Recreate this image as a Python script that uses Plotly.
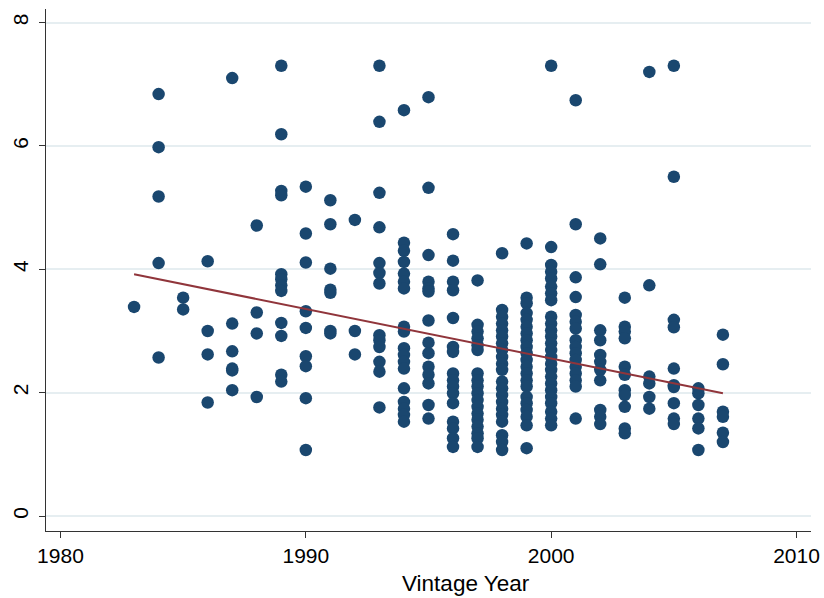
import plotly.graph_objects as go

# ---- data ----
y1983 = [3.39]
y1984 = [6.84, 5.98, 5.18, 4.10, 2.57]
y1985 = [3.54, 3.35]
y1986 = [4.13, 3.00, 2.62, 1.84]
y1987 = [7.10, 3.12, 2.67, 2.39, 2.36, 2.04]
y1988 = [4.71, 3.30, 2.96, 1.93]
y1989 = [7.30, 6.19, 5.27, 5.20, 3.92, 3.84, 3.74, 3.65, 3.13, 2.92, 2.29, 2.18]
y1990 = [5.34, 4.58, 4.11, 3.32, 3.05, 2.59, 2.43, 1.91, 1.07]
y1991 = [5.12, 4.73, 4.01, 3.67, 3.62, 3.00, 2.96]
y1992 = [4.80, 3.00, 2.62]
y1993 = [7.30, 6.39, 5.24, 4.68, 4.10, 3.94, 3.77, 2.93, 2.85, 2.74, 2.50, 2.34, 1.76]
y1994 = [6.58, 4.43, 4.30, 4.12, 3.93, 3.80, 3.69, 3.07, 2.99, 2.72, 2.61, 2.50,
         2.39, 2.07, 1.85, 1.74, 1.64, 1.53]
y1995 = [6.79, 5.32, 4.23, 3.80, 3.69, 3.64, 3.17, 2.81, 2.64, 2.42, 2.29, 2.15, 1.80, 1.58]
y1996 = [4.57, 4.14, 3.80, 3.66, 3.21, 2.74, 2.66, 2.31, 2.20, 2.10, 1.99, 1.83,
         1.53, 1.42, 1.26, 1.12]
y1997 = [3.82, 3.10, 2.99, 2.88, 2.77, 2.69, 2.31, 2.20, 2.10, 1.99, 1.88, 1.77,
         1.66, 1.56, 1.45, 1.34, 1.26, 1.12]
y1998 = [4.26, 3.34, 3.23, 3.12, 3.01, 2.91, 2.80, 2.69, 2.58, 2.47, 2.37, 2.18,
         2.07, 1.96, 1.85, 1.74, 1.64, 1.53, 1.31, 1.20, 1.07]
y1999 = [4.42, 3.54, 3.45, 3.29, 3.18, 3.07, 2.96, 2.85, 2.74, 2.64, 2.53, 2.42,
         2.31, 2.20, 2.10, 1.93, 1.83, 1.72, 1.61, 1.47, 1.10]
y2000 = [7.30, 4.36, 4.07, 3.96, 3.85, 3.72, 3.61, 3.50, 3.23, 3.12, 3.01, 2.91,
         2.80, 2.69, 2.58, 2.47, 2.37, 2.26, 2.15, 2.04, 1.93, 1.83, 1.69, 1.58, 1.47]
y2001 = [6.74, 4.73, 3.87, 3.55, 3.26, 3.15, 3.04, 2.85, 2.74, 2.64, 2.53, 2.42,
         2.31, 2.20, 2.10, 1.58]
y2002 = [4.50, 4.08, 3.01, 2.85, 2.61, 2.50, 2.37, 2.20, 1.72, 1.61, 1.49]
y2003 = [3.54, 3.07, 2.99, 2.88, 2.42, 2.29, 2.04, 1.96, 1.77, 1.42, 1.34]
y2004 = [7.20, 3.74, 2.26, 2.15, 1.93, 1.74]
y2005 = [7.30, 5.50, 3.18, 3.06, 2.39, 2.12, 2.09, 1.83, 1.58, 1.49]
y2006 = [2.07, 1.99, 1.80, 1.58, 1.42, 1.07]
y2007 = [2.94, 2.46, 1.69, 1.61, 1.35, 1.20]

by_year = {
    1983: y1983, 1984: y1984, 1985: y1985, 1986: y1986, 1987: y1987, 1988: y1988,
    1989: y1989, 1990: y1990, 1991: y1991, 1992: y1992, 1993: y1993, 1994: y1994,
    1995: y1995, 1996: y1996, 1997: y1997, 1998: y1998, 1999: y1999, 2000: y2000,
    2001: y2001, 2002: y2002, 2003: y2003, 2004: y2004, 2005: y2005, 2006: y2006,
    2007: y2007,
}

# fitted line endpoints
fit_years = [1983, 2007]
fit_values = [3.92, 1.99]

x_ticks = [1980, 1990, 2000, 2010]
y_ticks = [0, 2, 4, 6, 8]
x_title = "Vintage Year"

xs, ys = [], []
for yr, vals in by_year.items():
    xs += [yr] * len(vals)
    ys += vals

FONT = "Liberation Sans, Arial, Helvetica, sans-serif"
NAVY = "#1A476F"
MAROON = "#90353B"

fig = go.Figure()
fig.add_trace(go.Scatter(
    x=xs, y=ys, mode="markers",
    marker=dict(color=NAVY, size=12.5, line=dict(width=0)),
    showlegend=False, hoverinfo="x+y",
))
fig.add_trace(go.Scatter(
    x=fit_years, y=fit_values, mode="lines",
    line=dict(color=MAROON, width=2),
    showlegend=False,
))

fig.update_layout(
    width=824, height=598,
    margin=dict(l=46, r=13, t=9, b=67),
    paper_bgcolor="white", plot_bgcolor="white",
    font=dict(family=FONT, size=21, color="black"),
    xaxis=dict(
        range=[1979.41, 2010.59],
        tickmode="array", tickvals=x_ticks,
        ticks="outside", ticklen=6, tickwidth=1, tickcolor="#333",
        showline=True, linecolor="#333", linewidth=1,
        showgrid=False, zeroline=False, automargin=False,
        tickfont=dict(size=21),
    ),
    yaxis=dict(
        range=[-0.243, 8.22],
        tickmode="array", tickvals=y_ticks,
        ticks="outside", ticklen=6, tickwidth=1, tickcolor="#333",
        showline=True, linecolor="#333", linewidth=1,
        showgrid=True, gridcolor="#E6EEF1", gridwidth=1.5,
        zeroline=False, tickangle=-90, automargin=False,
        tickfont=dict(size=21),
        ticklabelstandoff=3,
    ),
    annotations=[dict(
        text=x_title, xref="paper", yref="paper",
        x=0.549, y=-0.1, xanchor="center", yanchor="middle",
        showarrow=False, font=dict(size=22.5, family=FONT, color="black"),
    )],
)

fig.write_html("out.html")
